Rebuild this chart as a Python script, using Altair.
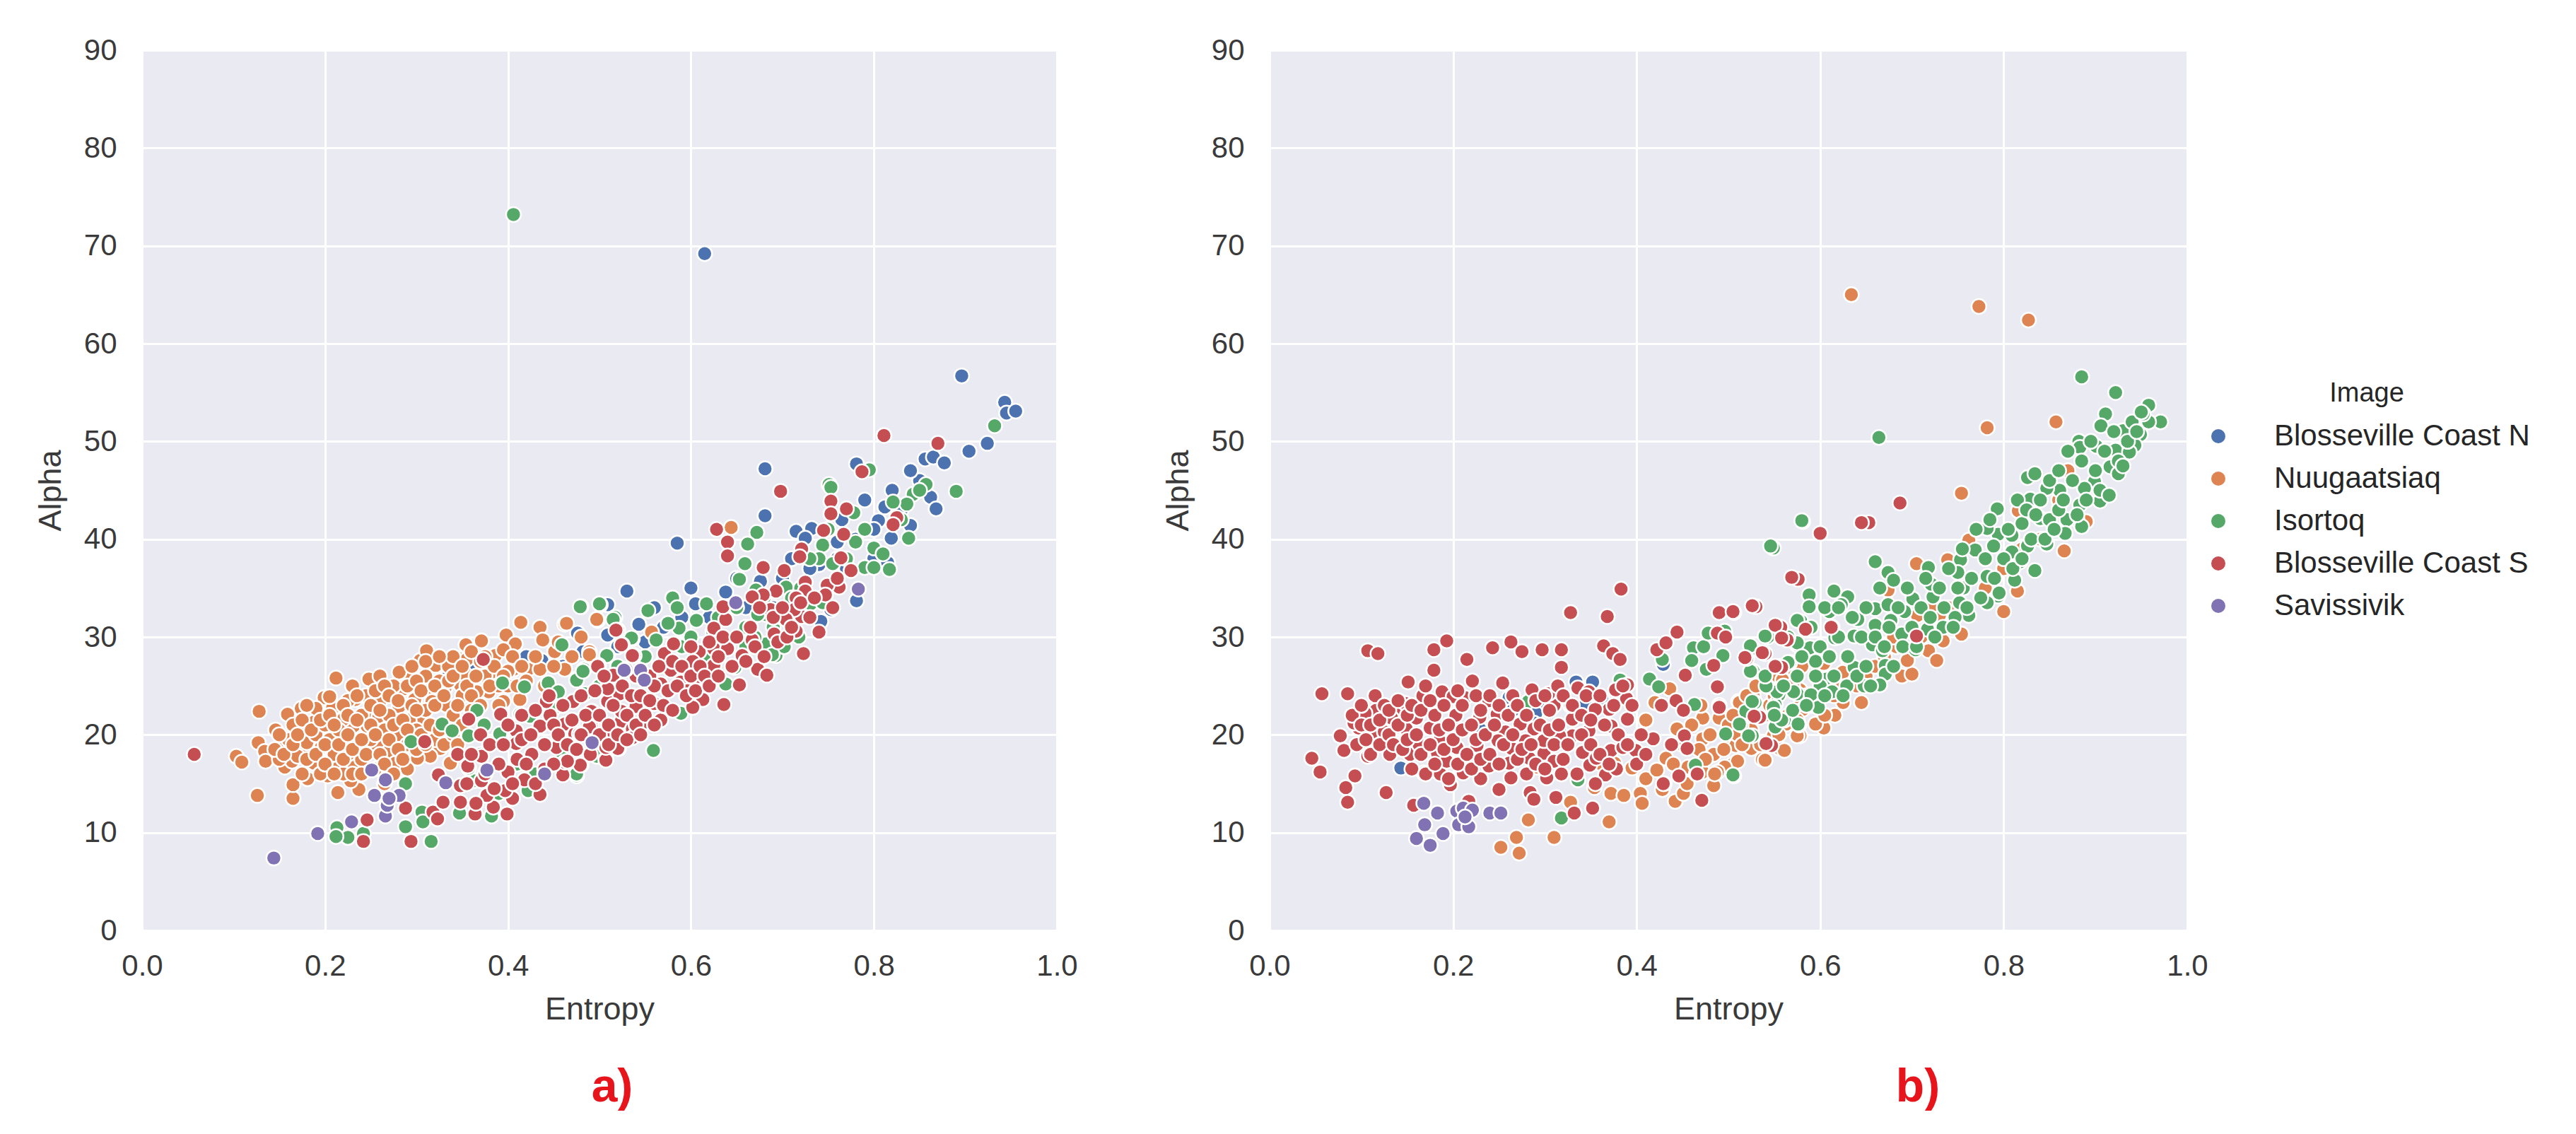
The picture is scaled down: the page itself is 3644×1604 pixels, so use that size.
import altair as alt
import pandas as pd

NAMES = ["Blosseville Coast N", "Nuugaatsiaq", "Isortoq", "Blosseville Coast S", "Savissivik"]
COLORS = ["#4C72B0", "#DD8452", "#55A868", "#C44E52", "#8172B3"]

A_BLUE = [(.615,69.2),(.896,56.7),(.943,54.0),(.945,52.9),(.955,53.1),(.904,49.0),(.924,49.8),(.856,48.2),(.865,48.4),(.877,47.8),(.781,47.7),(.681,47.2),(.681,42.4),(.585,39.6),(.862,44.3),(.868,43.1),(.812,43.3),(.805,41.9),(.8,41.0),(.84,41.4),(.819,40.1),(.715,40.8),(.732,41.1),(.725,40.1),(.76,39.7),(.765,42),(.74,37.4),(.8,38),(.815,37.6),(.781,33.7),(.753,32.8),(.638,34.6),(.676,35.7),(.66,33),(.53,34.7),(.543,31.3),(.509,30.2),(.476,30.4),(.55,29.5),(.605,33.4),(.742,31.6),(.437,27.6),(.333,25.8),(.482,28.5),(.509,33.3),
(.62,32),(.64,33),(.65,36),(.67,34),(.69,33),(.7,36),(.71,38),(.73,37),(.75,35),(.76,38),(.77,37),(.78,40),(.79,44),(.83,43),(.82,45),(.85,46),(.84,47),(.57,31),(.59,32),(.6,35),(.52,29),(.56,33),(.46,27),(.44,25),(.36,27),(.38,27),(.42,28)]
A_ORANGE = [(.212,25.8),(.248,25.7),(.199,23.8),(.174,22.7),(.159,22.1),(.146,20.5),(.127,19.2),(.134,18.3),(.135,17.3),(.156,16.7),(.164,17.3),(.157,18.8),(.176,18.6),(.188,17.1),(.203,15.8),(.214,14.1),(.237,14.4),(.232,16.8),(.216,16.8),(.188,21.3),(.172,20.6),(.196,18.7),(.22,19.8),(.231,20.9),(.233,23.6),(.22,21.6),(.208,22.7),(.261,23.6),(.249,22.5),(.259,21.9),(.246,20.9),(.234,18.7),(.258,18.8),(.27,18.3),(.277,17.1),(.228,15.3),(.181,15.5),(.281,22.9),(.286,24.7),(.298,23.6),(.293,26.3),(.304,27.6),(.311,28.6),(.321,27.1),(.281,26.4),(.268,24.8),(.292,21.5),(.308,21.6),(.333,23),(.331,24.7),(.348,25.1),(.353,26.2),(.315,24.7),(.317,23.4),(.346,27.8),(.354,29.2),(.371,29.6),(.355,27.7),(.386,28.1),(.382,26.4),(.398,30.2),(.408,29.3),(.414,31.5),(.406,26.7),(.422,26.7),(.435,26.7),(.435,31),(.438,29.7),(.462,31.3),(.462,26.7),(.451,28.5),(.498,31.7),(.489,28.5),(.395,28.7),(.379,24.4),(.395,23.4),(.413,23.6),(.366,24.4),(.326,18.6),(.315,17.8),(.301,17.6),(.344,18.1),(.337,17.1),(.128,22.4),(.103,17.8),(.109,17.2),(.126,13.8),(.165,13.5),(.165,14.9),(.464,31.4),(.497,31.8),(.557,30.5),(.489,28.2),(.644,41.2),(.16,19.5),(.17,17.8),(.18,19.2),(.19,20),(.2,21),(.205,19.5),(.21,18),(.215,20.5),(.225,18),(.24,17.5),(.25,19.5),(.24,22),(.225,23.5),(.205,23.9),(.19,22.7),(.265,20.5),(.27,22),(.28,20),(.29,19),(.3,20.5),(.31,22.5),(.33,21),(.34,22),(.35,24),(.36,22.5),(.375,26),(.39,25),(.4,26.5),(.37,27.5),(.335,27),(.325,25.5),(.34,28),(.31,26),(.275,25),(.26,26),(.245,24),(.23,25),(.235,19),(.22,16),(.195,16),(.175,16),(.15,17.5),(.145,18.5),(.165,21),(.18,23),(.255,16.5),(.265,15),(.29,16.5),(.305,19),(.32,19.5),
(.15,20),(.155,18),(.165,19),(.17,20),(.175,21.5),(.18,17.5),(.185,20.5),(.19,18),(.195,21.5),(.2,17),(.2,19),(.205,22),(.21,16),(.21,21),(.215,19),(.22,23),(.22,17.5),(.225,20),(.225,22),(.23,18.5),(.23,16),(.235,21.5),(.235,24),(.24,19.5),(.24,16),(.245,18),(.25,21),(.25,23),(.255,20),(.255,24.5),(.26,18),(.26,22.5),(.265,17),(.265,25),(.27,19.5),(.27,24),(.275,21),(.275,16),(.28,18.5),(.28,23.5),(.285,21.5),(.285,17.5),(.29,25),(.29,20.5),(.295,23),(.295,27),(.3,18.5),(.3,22.5),(.3,25.5),(.305,24.5),(.305,20),(.31,19),(.31,27.5),(.315,21),(.32,23),(.32,25),(.325,20.5),(.325,28),(.33,19),(.33,24),(.335,25.5),(.34,20),(.34,26),(.345,23),(.345,19),(.35,21),(.35,27),(.355,25),(.36,28.5),(.36,24),(.365,26),(.37,23),(.375,28),(.38,25),(.385,27),(.39,23),(.395,26),(.4,25),(.405,28),(.41,25),(.415,27),(.42,25.5),(.43,28),(.44,25),(.45,27),(.455,29.5),(.47,28),(.48,30)]
A_GREEN = [(.406,73.2),(.213,10.5),(.225,9.5),(.212,9.6),(.242,9.9),(.288,10.6),(.306,12.1),(.307,11.1),(.316,9.1),(.288,15),(.294,19.3),(.328,21.1),(.339,20.4),(.357,19.9),(.374,21),(.366,22.5),(.394,25.3),(.418,24.9),(.444,25.3),(.455,24.4),(.475,25.7),(.459,29.2),(.48,33.1),(.501,33.3),(.517,32),(.536,29.8),(.509,28.1),(.483,26.7),(.347,12),(.382,11.7),(.362,15.3),(.357,16.6),(.422,14.3),(.475,15.8),(.5,17.8),(.391,20.1),(.413,22.1),(.424,21.9),(.449,22.6),(.484,24.2),(.932,51.6),(.89,44.9),(.857,45.6),(.843,44.6),(.836,43.6),(.821,43.8),(.838,40.1),(.795,47.1),(.751,45.6),(.753,45.3),(.778,42.7),(.78,39.7),(.8,39.1),(.79,37.1),(.8,37.1),(.817,36.9),(.744,39.4),(.74,38),(.755,37.5),(.672,40.7),(.662,39.5),(.659,37.5),(.653,35.9),(.58,34),(.585,33),(.617,33.4),(.606,31.7),(.587,30.9),(.575,31.4),(.553,32.7),(.5,33.4),(.479,33.1),(.515,31.8),(.535,29.9),(.562,29.7),(.508,28.1),(.475,25.6),(.482,26.5),(.693,28.1),(.648,26.9),(.589,22.2),(.559,18.4),(.66,31),(.682,32.3),(.704,35.1),(.731,33.4),(.744,33.5),(.702,29),(.682,29.3),(.689,28.2),(.718,30),(.638,25.2),(.624,30.5),(.475,16),(.497,17.8),(.673,32.3),(.671,34.8),
(.37,18),(.39,14),(.41,17),(.43,16),(.44,19),(.46,18),(.47,21),(.49,22),(.5,25),(.52,27),(.54,26),(.55,28),(.57,27.5),(.59,29),(.6,30),(.62,28),(.63,32),(.64,29),(.65,33),(.66,29),(.67,30),(.68,34),(.69,31),(.7,32),(.71,34),(.72,35),(.73,38),(.75,41),(.76,35.5),(.77,38),(.79,41),(.81,38.5),(.83,42),(.85,45)]
A_RED = [(.057,18),(.242,9.1),(.246,11.3),(.288,12.5),(.294,9.1),(.318,12.1),(.323,11.4),(.329,13.1),(.348,13.1),(.364,11.9),(.399,11.9),(.384,12.6),(.405,13.5),(.435,13.9),(.348,14.8),(.356,16.8),(.377,13.8),(.371,15.3),(.324,15.9),(.309,19.3),(.357,21.6),(.371,17.8),(.373,27.7),(.392,22.1),(.409,20.4),(.409,19.1),(.397,14.3),(.4,16.2),(.418,15.4),(.426,18),(.435,20.9),(.446,22),(.442,23.4),(.453,18.7),(.46,15.9),(.462,17.2),(.48,16.9),(.471,23.4),(.462,21.1),(.473,20.1),(.491,20.9),(.492,22.4),(.509,23.4),(.509,24.9),(.516,26.1),(.499,27.1),(.52,30.7),(.525,29.2),(.507,17.5),(.521,18.6),(.525,21.4),(.538,20.6),(.522,24.2),(.538,28.1),(.811,50.6),(.87,49.8),(.787,46.9),(.698,44.9),(.753,43.9),(.77,43.1),(.753,42.6),(.745,40.9),(.767,40.5),(.825,42.2),(.821,41.5),(.721,39),(.719,38.2),(.764,38.1),(.775,36.8),(.628,41),(.64,39.7),(.64,38.3),(.679,37.1),(.702,36.8),(.725,35.6),(.762,35.1),(.725,34.7),(.693,34.7),(.679,34.3),(.667,34.1),(.749,35.3),(.747,34.3),(.715,34),(.687,32.8),(.638,31.8),(.635,33.1),(.625,30.9),(.721,32.1),(.713,32.8),(.704,31.8),(.715,30.6),(.74,30.5),(.691,30.3),(.667,29.7),(.723,28.3),(.518,30.7),(.524,29.2),(.536,28.1),(.571,28.3),(.581,29.3),(.609,28.5),(.625,28.8),(.64,28.8),(.656,28.1),(.673,26.7),(.683,26.1),(.625,27.1),(.602,27.5),(.578,26.6),(.567,25.2),(.589,25.4),(.607,25.9),(.624,25.6),(.653,25.1),(.596,24.5),(.613,23.6),(.602,22.8),(.636,23.1),(.56,23.2),(.567,21.5),(.551,21.3),(.524,21.4),(.536,20.6),(.52,18.6),(.507,17.4),(.479,16.9),(.491,22.4),(.489,20.8),(.515,20.2),(.478,20.1),(.509,24.7),(.498,27),(.515,26.1),(.524,22.4),(.507,18.7),(.54,22.9),(.536,19.7),(.47,18.7),(.465,17.3),
(.345,18),(.355,15),(.36,18),(.365,13),(.37,20),(.375,16),(.38,19),(.385,14.5),(.39,17),(.395,19),(.4,21),(.405,15),(.41,17.5),(.415,19.5),(.415,22),(.42,17),(.425,20),(.43,15),(.43,22.5),(.44,16.5),(.44,19),(.445,24),(.45,21),(.45,17),(.455,20),(.46,23),(.465,19),(.47,21.5),(.475,18.5),(.48,20),(.48,24),(.485,22),(.49,18),(.495,24.5),(.5,20),(.5,22),(.505,26),(.51,19),(.51,21),(.515,23),(.52,20),(.525,25),(.53,19.5),(.53,22),(.535,24),(.54,26),(.54,21),(.545,20),(.545,24),(.55,22),(.555,26),(.555,23.5),(.56,21),(.56,25),(.565,27),(.57,23),(.575,24.5),(.58,27.5),(.58,22.5),(.585,25),(.59,27),(.595,24),(.6,26),(.6,29),(.605,24.5),(.61,27),(.615,26),(.62,29.5),(.62,25),(.63,28),(.63,26),(.635,30),(.645,27),(.65,30),(.66,27.5),(.665,31),(.67,29),(.675,33),(.68,28),(.69,32),(.695,29.5),(.7,33),(.705,30),(.71,31),(.72,33.5),(.73,32),(.735,34),(.755,33),(.76,36)]
A_PURPLE = [(.144,7.4),(.192,9.9),(.229,11.1),(.266,11.7),(.268,12.8),(.254,13.8),(.281,13.8),(.27,13.5),(.251,16.4),(.266,15.4),(.332,15.1),(.377,16.4),(.44,16),(.492,19.2),(.529,26.7),(.649,33.5),(.527,26.6),(.545,26.6),(.549,25.6),(.783,34.9)]

B_BLUE = [(.261,23.8),(.168,16.1),(.352,25.4),(.334,25.4),(.362,23.8),(.344,23.1),(.292,23.1),(.29,22.2),(.265,22.5),(.316,20.3),(.229,20.6),(.429,27.2),(.143,16.6),(.316,19.4),(.288,21.2)]
B_ORANGE = [(.634,65),(.773,63.8),(.827,62.4),(.857,52),(.782,51.4),(.754,44.7),(.866,38.8),(.87,47),(.816,42.9),(.89,41.8),(.762,39.9),(.739,37.9),(.705,37.5),(.674,34.8),(.8,32.6),(.815,34.7),(.754,30.3),(.734,29.6),(.718,28.6),(.727,27.6),(.689,26),(.7,26.2),(.706,32.2),(.73,32.2),(.683,29),(.695,27.6),(.645,23.3),(.625,23.3),(.578,22.9),(.604,20.7),(.616,22),(.578,19.9),(.556,18.6),(.537,17.5),(.525,18.6),(.505,19.1),(.505,17),(.511,23.4),(.648,26.4),(.625,26.4),(.63,27.8),(.604,27.3),(.572,26.6),(.551,25.5),(.578,24.6),(.595,21.1),(.563,21.1),(.549,19.9),(.252,8.5),(.272,7.9),(.269,9.5),(.31,9.5),(.282,11.3),(.37,11.1),(.328,13.1),(.354,14.6),(.372,14),(.386,13.8),(.404,14),(.406,13),(.395,16.6),(.41,15.5),(.41,21.5),(.422,16.4),(.432,17.6),(.442,13.2),(.451,14),(.484,14.8),(.484,18),(.472,19.6),(.472,21.7),(.49,21.7),(.508,18.9),(.51,17.3),(.496,16.7),(.468,18.5),(.436,24.7),(.42,23.3),(.512,23.3),(.54,17.4),(.561,18.4),(.581,22.6),(.575,19.9),(.559,25.6),(.527,24),(.292,16.7),(.359,17.1),(.376,17.1),(.428,14.4),(.456,16.7),(.472,16.2),(.488,16.2),(.444,20.6),
(.43,15),(.44,17),(.45,19),(.455,15),(.46,21),(.465,16),(.47,23),(.475,17.5),(.48,20),(.485,16),(.49,23),(.495,18.5),(.5,21),(.505,22),(.51,20),(.515,19),(.52,22),(.52,24),(.525,20.5),(.53,25),(.535,19),(.54,22),(.545,23),(.55,24),(.555,20),(.56,27),(.565,22),(.57,25),(.575,21.5),(.58,27),(.585,24),(.59,23),(.6,25),(.605,22),(.61,28),(.615,24),(.62,25),(.63,25),(.64,25),(.65,26),(.66,27),(.67,28),(.68,30),(.69,29),(.71,30),(.72,33),(.74,33),(.76,33),(.78,35),(.8,37),(.82,39),(.84,40),(.86,44),(.88,42)]
B_GREEN = [(.549,39.1),(.581,41.8),(.414,25.7),(.424,24.9),(.428,27.7),(.463,23.1),(.462,28.9),(.473,29),(.496,30.6),(.494,28.1),(.46,27.6),(.478,30.4),(.476,26.7),(.497,20.1),(.514,21),(.526,19.9),(.506,15.8),(.464,16.9),(.336,15.4),(.318,11.5),(.282,23.4),(.543,24.9),(.555,24.1),(.575,24.2),(.543,30),(.527,28.8),(.527,26.5),(.561,21.5),(.577,21),(.551,20.8),(.529,23.3),(.551,23.1),(.567,27.4),(.579,31.6),(.575,29.2),(.519,22.4),(.382,25.6),(.885,56.6),(.922,55),(.958,53.7),(.971,52),(.958,52),(.952,52.8),(.664,50.4),(.58,41.9),(.546,39.3),(.911,52.8),(.93,51.1),(.906,51.6),(.949,50.7),(.882,50),(.901,49.5),(.883,49.4),(.943,49.6),(.922,49.1),(.937,48.9),(.916,47.4),(.925,46.7),(.899,45.9),(.888,45.2),(.826,46.3),(.834,46.7),(.829,44.1),(.861,45),(.847,45.2),(.905,43.9),(.883,43.5),(.869,42),(.84,42.1),(.82,41.6),(.885,41.3),(.867,40.6),(.847,39.5),(.826,39.3),(.793,43.1),(.794,40.5),(.782,41.1),(.809,40.4),(.834,36.8),(.818,37.7),(.789,39.3),(.809,38.7),(.769,38.9),(.753,37.9),(.812,35.8),(.782,36.2),(.75,36.6),(.718,37.1),(.756,35),(.66,37.7),(.674,36.6),(.68,35.8),(.723,34.1),(.701,33.9),(.752,33.5),(.794,34.2),(.782,33.5),(.762,32.2),(.747,32),(.734,31),(.717,30.8),(.721,35.4),(.588,34.3),(.588,33.1),(.615,34.7),(.63,34.1),(.623,33.3),(.61,32.6),(.66,32.9),(.674,33.3),(.692,32.6),(.641,31.8),(.677,31.7),(.66,31.2),(.689,30.3),(.637,30.1),(.616,29.9),(.661,29.4),(.657,29.2),(.589,28.9),(.575,29.4),(.54,30.1),(.575,31.7),(.524,29.1),(.595,27.5),(.565,27.4),(.668,28.6),(.704,28.7),(.671,27.1),(.637,26.9),(.671,26.2),(.607,25.7),(.6,25),(.665,25.1),(.648,25),(.629,25),(.613,24.4),(.59,24.1),(.571,24.4),(.553,24.4),(.541,25),(.526,23.4),(.598,22.8),(.558,21.5),(.576,21.1),(.549,22.8),(.522,19.9),(.512,21.1),(.505,15.9),(.524,26.5),(.613,31),
(.54,26),(.55,22),(.555,27),(.56,25),(.565,30),(.57,22.5),(.575,26),(.58,28),(.585,23),(.59,31),(.595,26),(.6,29),(.605,33),(.605,24),(.61,28),(.615,26),(.62,30),(.62,33),(.625,24),(.63,28),(.635,32),(.64,26),(.645,30),(.65,33),(.65,27),(.655,25),(.66,30),(.665,35),(.67,29),(.675,31),(.68,27),(.685,33),(.69,29),(.695,35),(.7,31),(.705,29),(.71,33),(.715,36),(.72,32),(.725,30),(.73,35),(.735,33),(.74,37),(.745,31),(.75,35),(.755,39),(.76,33),(.765,36),(.77,41),(.775,34),(.78,38),(.785,42),(.79,36),(.795,34.5),(.8,38),(.805,41),(.81,37),(.815,44),(.82,38),(.825,43),(.83,40),(.835,42.5),(.84,44),(.845,40),(.85,46),(.85,42),(.855,41),(.86,47),(.86,43),(.865,44),(.87,49),(.875,46),(.88,42.5),(.885,48),(.89,44),(.895,50),(.9,47),(.905,45),(.91,49),(.915,44.5),(.92,51),(.925,48),(.93,47.5),(.935,50),(.94,52),(.945,51),(.95,53)]
B_RED = [(.057,24.2),(.046,17.6),(.055,16.2),(.085,24.2),(.107,28.6),(.118,28.3),(.077,19.9),(.081,18.4),(.107,17.8),(.093,15.8),(.083,14.6),(.085,13.1),(.127,14.1),(.116,22.5),(.097,20.7),(.117,20),(.142,22.1),(.149,20.6),(.16,21.7),(.175,20.7),(.148,23.2),(.167,24),(.151,25.4),(.179,26.6),(.179,28.7),(.193,29.6),(.215,27.7),(.221,25.5),(.188,24.4),(.2,23.9),(.213,23.8),(.239,23.5),(.229,21.8),(.248,22.1),(.201,21.1),(.141,19),(.153,18),(.163,19),(.183,18.1),(.204,18.7),(.226,18.9),(.223,17.3),(.239,16.8),(.211,16.1),(.186,16),(.197,14.9),(.23,15.5),(.263,15.6),(.25,14.4),(.284,14.1),(.288,13.4),(.312,13.6),(.332,12),(.352,12.5),(.217,13.2),(.157,12.8),(.257,20.3),(.264,18.6),(.283,17.6),(.299,18.1),(.31,17.3),(.288,20.6),(.273,21.1),(.33,19.9),(.33,21.6),(.341,18.2),(.349,16.9),(.318,16),(.302,15.6),(.366,15.9),(.378,16.5),(.372,18.4),(.385,18.7),(.399,18.4),(.39,21.6),(.372,20.9),(.37,22.6),(.355,22.6),(.328,23),(.31,23),(.304,24.2),(.286,24.6),(.336,24.8),(.348,24.4),(.314,25),(.389,23.7),(.39,25.1),(.377,24.6),(.254,25.3),(.243,28.9),(.263,29.5),(.275,28.5),(.297,28.7),(.318,28.7),(.318,26.9),(.328,32.5),(.368,32.1),(.383,34.9),(.364,29.1),(.374,28.3),(.382,27.7),(.422,28.7),(.432,29.4),(.444,30.5),(.453,26.1),(.427,23),(.443,23.5),(.451,22.5),(.418,19.6),(.438,19),(.452,19.9),(.455,18.6),(.446,15.8),(.429,15),(.466,16),(.471,13.3),(.49,32.5),(.506,32.5),(.53,33.1),(.488,30.4),(.497,30),(.484,27.1),(.488,24.9),(.49,22.8),(.52,27.8),(.54,28.3),(.558,26.9),(.557,31),(.564,29.7),(.576,35.9),(.547,18.9),(.534,21.8),(.203,22),(.185,19.4),(.193,17.3),(.249,19.4),(.261,17.1),(.279,19.4),(.299,19.4),(.316,19.9),(.348,20.4),(.356,17.6),(.131,18),(.133,21.7),(.104,22.2),(.092,21.2),(.125,20.3),(.569,36.1),(.6,40.6),(.653,41.7),(.645,41.7),(.687,43.7),(.505,32.6),(.526,33.2),(.551,31.2),(.584,30.8),(.612,31),(.558,29.9),(.537,28.4),(.518,27.9),(.551,27),(.705,30.1),(.528,21.9),(.541,19.1),
(.09,22),(.095,19),(.1,23),(.1,21),(.105,19.5),(.11,21),(.11,18),(.115,24),(.12,21.5),(.12,19),(.125,23),(.13,22.5),(.13,20),(.135,19),(.14,23.5),(.14,21),(.145,18.5),(.15,22),(.15,19.5),(.155,23),(.155,16.5),(.16,20),(.165,22.5),(.165,18),(.17,25),(.17,16),(.175,23.5),(.175,19),(.18,22),(.18,17),(.185,20.5),(.19,23),(.19,18.5),(.195,21),(.195,15.5),(.2,19.5),(.205,24.5),(.205,17),(.21,20.5),(.21,23),(.215,18),(.22,21),(.22,16.5),(.225,24),(.225,19.5),(.23,22.5),(.23,17.5),(.235,20),(.24,18),(.24,24),(.245,21),(.25,23),(.25,17),(.255,19),(.26,22),(.265,24),(.265,20),(.27,17.5),(.27,23),(.275,18.5),(.28,22),(.28,16),(.285,19),(.29,23.5),(.29,17),(.295,21),(.3,24),(.3,16.5),(.305,20.5),(.305,22.5),(.31,19),(.315,21),(.32,24),(.32,17.5),(.325,19),(.33,23),(.335,16),(.34,20),(.34,22),(.345,24),(.35,19),(.35,21.5),(.355,15),(.36,24),(.36,18),(.365,21),(.37,17),(.375,23),(.38,20),(.385,25),(.39,19),(.395,23),(.4,17),(.405,20),(.41,18)]
B_PURPLE = [(.168,13),(.183,12),(.204,12.2),(.211,12.5),(.221,12.3),(.24,12),(.252,12),(.169,10.8),(.206,10.8),(.217,10.6),(.189,9.9),(.16,9.4),(.175,8.7),(.213,11.6)]

X_TICKS = [0.0, 0.2, 0.4, 0.6, 0.8, 1.0]
Y_TICKS = [0, 10, 20, 30, 40, 50, 60, 70, 80, 90]
TEXT_FONT = "Liberation Sans"


def frame(series):
    rows = []
    for name, pts in zip(NAMES, series):
        rows += [{"Entropy": x, "Alpha": y, "Image": name} for x, y in pts]
    return pd.DataFrame(rows)


def panel(df, width, label, label_dx, legend):
    return (
        alt.Chart(df)
        .mark_circle(size=440, opacity=1, stroke="white", strokeWidth=2.5)
        .encode(
            x=alt.X("Entropy:Q", scale=alt.Scale(domain=[0, 1], nice=False),
                    axis=alt.Axis(values=X_TICKS, format=".1f", title="Entropy", labelFlush=False,
                                  labelPadding=30, titlePadding=18)),
            y=alt.Y("Alpha:Q", scale=alt.Scale(domain=[0, 90], nice=False),
                    axis=alt.Axis(values=Y_TICKS, title="Alpha", labelPadding=36, titlePadding=24)),
            color=alt.Color("Image:N", scale=alt.Scale(domain=NAMES, range=COLORS),
                            sort=NAMES, legend=legend),
            order=alt.Order("idx:Q"),
        )
        .transform_window(idx="row_number()")
        .properties(
            width=width, height=1245,
            title=alt.TitleParams(label, orient="bottom", color="#E8141C", fontSize=66,
                                  fontWeight="bold", font=TEXT_FONT, dx=label_dx, offset=56),
        )
    )


legend_b = alt.Legend(
    title="Image", orient="none", legendX=1321, legendY=467, titleAnchor="middle",
    titleFontSize=38, titleFontWeight="normal", titleColor="#262626", titleFont=TEXT_FONT,
    labelFontSize=42, labelColor="#262626", labelFont=TEXT_FONT, labelLimit=600,
    symbolType="circle", symbolSize=400, symbolStrokeWidth=0, labelOffset=58,
    rowPadding=18, titlePadding=20,
)

a = panel(frame([A_BLUE, A_ORANGE, A_GREEN, A_RED, A_PURPLE]), 1294, "a)", 18, None)
b = panel(frame([B_BLUE, B_ORANGE, B_GREEN, B_RED, B_PURPLE]), 1298, "b)", 268, legend_b)

chart = (
    alt.hconcat(a, b, spacing=119, padding={"left": 41, "top": 42, "right": 0, "bottom": 0})
    .resolve_scale(color="independent")
    .configure_view(fill="#EAEAF2", stroke=None)
    .configure_axis(
        grid=True, gridColor="white", gridWidth=3, domain=False, ticks=False,
        labelFontSize=42, titleFontSize=45, labelFont=TEXT_FONT, titleFont=TEXT_FONT,
        labelColor="#3a3a3a", titleColor="#3a3a3a", titleFontWeight="normal",
    )
    .configure_concat(spacing=119)
)

chart.save("out.html", embed_options={"renderer": "svg", "actions": False})
